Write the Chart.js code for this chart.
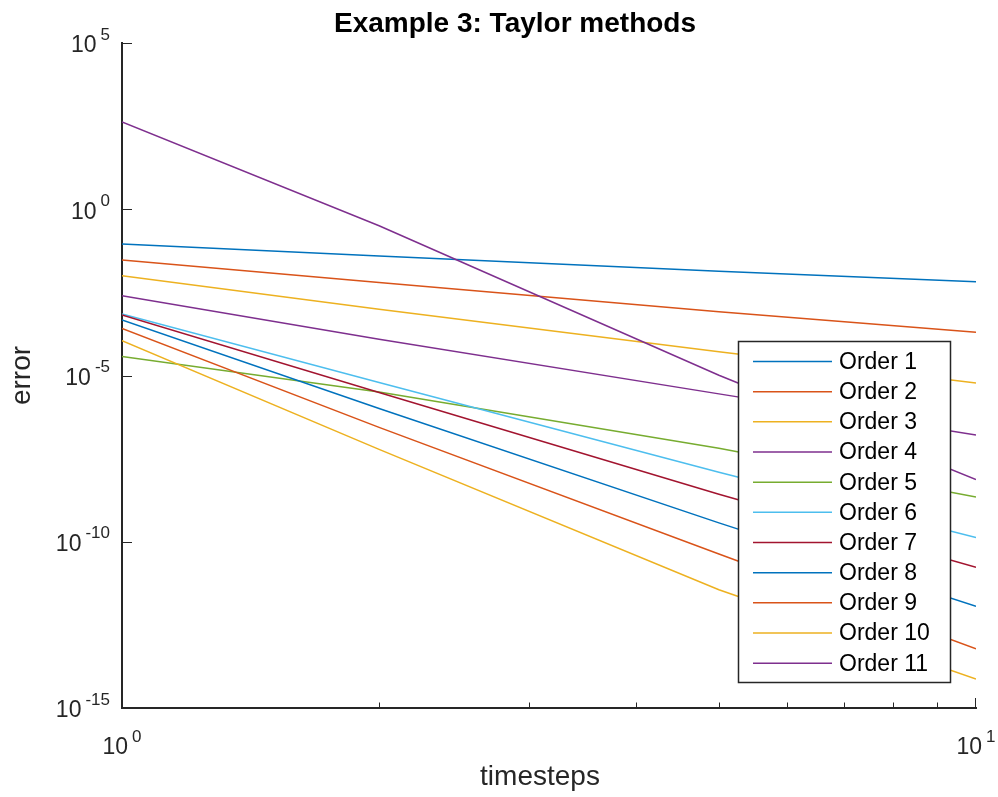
<!DOCTYPE html>
<html>
<head>
<meta charset="utf-8">
<title>Example 3: Taylor methods</title>
<script src="https://cdn.jsdelivr.net/npm/chart.js@4.4.1/dist/chart.umd.min.js"></script>
<style>
  html, body { margin: 0; padding: 0; background: #fff; }
  #wrap { width: 998px; height: 797px; }
</style>
</head>
<body>
<div id="wrap"><canvas id="chart" width="998" height="797"></canvas></div>
<script>
// number of timesteps used for each run
const timesteps = [1, 2, 5, 10];

// global error for each Taylor order
const order1 = [9.0e-2, 3.9e-2, 1.36e-2, 6.6e-3];
const order2 = [3.0e-2, 6.3e-3, 8.3e-4, 2.0e-4];
const order3 = [1.0e-2, 9.8e-4, 5.2e-5, 5.9e-6];
const order4 = [2.5e-3, 1.23e-4, 2.8e-6, 1.62e-7];
const order5 = [3.7e-5, 3.2e-6, 6.5e-8, 2.2e-9];
const order6 = [7.1e-4, 6.2e-6, 1.23e-8, 1.35e-10];
const order7 = [6.6e-4, 3.1e-6, 2.7e-9, 1.7e-11];
const order8 = [4.7e-4, 1.02e-6, 3.7e-10, 1.15e-12];
const order9 = [2.6e-4, 2.75e-7, 4.3e-11, 6.0e-14];
const order10 = [1.12e-4, 6.0e-8, 3.6e-12, 7.4e-15];
const order11 = [4.2e2, 3.2e-1, 1.02e-5, 7.4e-9];

const seriesNames = ["Order 1", "Order 2", "Order 3", "Order 4", "Order 5", "Order 6",
  "Order 7", "Order 8", "Order 9", "Order 10", "Order 11"];
const seriesValues = [order1, order2, order3, order4, order5, order6,
  order7, order8, order9, order10, order11];

// axis ticks (exponents of ten)
const yTickExps = [5, 0, -5, -10, -15];
const xTickExps = [0, 1];
const xMinorTicks = [2, 3, 4, 5, 6, 7, 8, 9];

// default line colour order
const palette = ["#0072BD", "#D95319", "#EDB120", "#7E2F8E", "#77AC30", "#4DBEEE", "#A2142F"];

const FONT = "'Liberation Sans', Arial, Helvetica, sans-serif";
const INK = "#262626";

const datasets = seriesNames.map((name, i) => ({
  label: name,
  data: timesteps.map((t, j) => ({ x: t, y: seriesValues[i][j] })),
  borderColor: palette[i % palette.length],
  backgroundColor: palette[i % palette.length],
  borderWidth: 1.5,
  pointRadius: 0,
  tension: 0,
  fill: false,
  order: seriesNames.length - i,
}));

// "10" with a raised exponent
function drawPow(ctx, exp, x, y, align) {
  ctx.save();
  ctx.fillStyle = INK;
  ctx.textBaseline = "middle";
  ctx.textAlign = "left";
  const baseFont = "23px " + FONT;
  const supFont = "17px " + FONT;
  const sup = exp < 0 ? "-" + Math.abs(exp) : String(exp);
  ctx.font = baseFont;
  const wb = ctx.measureText("10").width;
  ctx.font = supFont;
  const ws = ctx.measureText(sup).width;
  const gap = 4;
  const total = wb + gap + ws;
  let x0 = x;
  if (align === "right") x0 = x - total;
  else if (align === "center") x0 = x - total / 2;
  ctx.font = baseFont;
  ctx.fillText("10", x0, y + 3);
  ctx.font = supFont;
  ctx.fillText(sup, x0 + wb + gap, y - 8);
  ctx.restore();
}

const decorations = {
  id: "decorations",
  afterDraw(chart) {
    const ctx = chart.ctx;
    const area = chart.chartArea;
    const xs = chart.scales.x;
    const ys = chart.scales.y;

    ctx.save();
    ctx.strokeStyle = INK;
    ctx.lineWidth = 1;

    // inward tick marks
    ctx.beginPath();
    yTickExps.forEach(e => {
      const py = Math.round(ys.getPixelForValue(Math.pow(10, e))) + 0.5;
      ctx.moveTo(area.left, py);
      ctx.lineTo(area.left + 10, py);
    });
    xTickExps.forEach(e => {
      const px = Math.round(xs.getPixelForValue(Math.pow(10, e))) - 0.5;
      ctx.moveTo(px, area.bottom);
      ctx.lineTo(px, area.bottom - 10);
    });
    xMinorTicks.forEach(v => {
      const px = Math.round(xs.getPixelForValue(v)) + 0.5;
      ctx.moveTo(px, area.bottom);
      ctx.lineTo(px, area.bottom - 5.5);
    });
    ctx.stroke();

    // tick labels
    yTickExps.forEach(e => {
      drawPow(ctx, e, area.left - 12, ys.getPixelForValue(Math.pow(10, e)), "right");
    });
    xTickExps.forEach(e => {
      drawPow(ctx, e, xs.getPixelForValue(Math.pow(10, e)), area.bottom + 37, "center");
    });

    // titles
    const midX = (area.left + area.right) / 2;
    const midY = (area.top + area.bottom) / 2;
    ctx.fillStyle = "#000";
    ctx.textAlign = "center";
    ctx.textBaseline = "middle";
    ctx.font = "bold 28px " + FONT;
    ctx.fillText("Example 3: Taylor methods", midX - 34, 24);
    ctx.fillStyle = INK;
    ctx.font = "28px " + FONT;
    ctx.fillText("timesteps", midX - 9, 777);
    ctx.save();
    ctx.translate(22, midY);
    ctx.rotate(-Math.PI / 2);
    ctx.fillText("error", 0, 0);
    ctx.restore();

    // legend box inside the axes
    const lx = 738.5, ly = 341.5, lw = 212, lh = 341;
    ctx.fillStyle = "#fff";
    ctx.fillRect(lx, ly, lw, lh);
    ctx.lineWidth = 1.5;
    ctx.strokeStyle = INK;
    ctx.strokeRect(lx, ly, lw, lh);
    ctx.font = "23px " + FONT;
    ctx.textAlign = "left";
    ctx.fillStyle = "#000";
    chart.data.datasets.forEach((ds, i) => {
      const ry = ly + 20 + i * 30.17;
      ctx.strokeStyle = ds.borderColor;
      ctx.lineWidth = 1.5;
      ctx.beginPath();
      ctx.moveTo(753, ry);
      ctx.lineTo(832, ry);
      ctx.stroke();
      ctx.fillText(ds.label, 839, ry + 1);
    });
    ctx.restore();
  }
};

new Chart(document.getElementById("chart").getContext("2d"), {
  type: "line",
  data: { datasets },
  options: {
    responsive: false,
    animation: false,
    parsing: true,
    layout: { padding: { left: 122, right: 22, top: 43, bottom: 89 } },
    plugins: {
      legend: { display: false },
      tooltip: { enabled: false },
      title: { display: false },
    },
    scales: {
      x: {
        type: "logarithmic",
        min: 1,
        max: 10,
        grid: { display: false, drawTicks: false },
        ticks: { display: false },
        border: { display: true, color: INK, width: 2 },
      },
      y: {
        type: "logarithmic",
        min: 1e-15,
        max: 1e5,
        grid: { display: false, drawTicks: false },
        ticks: { display: false },
        border: { display: true, color: INK, width: 2 },
      },
    },
  },
  plugins: [decorations],
});
</script>
</body>
</html>
